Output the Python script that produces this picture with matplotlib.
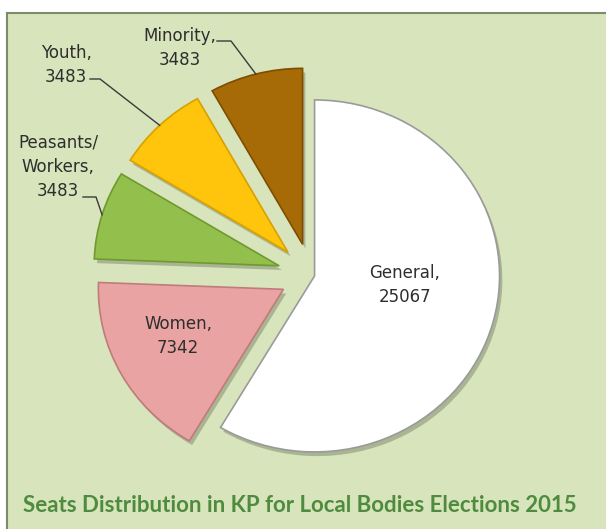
import matplotlib
matplotlib.use('Agg')
import numpy as np
import matplotlib.pyplot as plt
import matplotlib.patheffects as pe
from matplotlib.patches import Rectangle

categories = ['General', 'Women', 'Peasants/\nWorkers', 'Youth', 'Minority']
seats = [25067, 7342, 3483, 3483, 3483]
title = 'Seats Distribution in KP for Local Bodies Elections 2015'

slice_colors = ['#ffffff', '#e9a3a3', '#93bf4c', '#ffc40c', '#a66a06']
edge_colors = ['#9a9a9a', '#c07b7b', '#6f9a2e', '#d9a100', '#7d4e00']
explode = [0.02, 0.17, 0.18, 0.18, 0.18]

W, H = 606, 529
fig = plt.figure(figsize=(W / 100, H / 100), dpi=100, facecolor='white')

def pixel_axes():
    a = fig.add_axes([0, 0, 1, 1])
    a.set_xlim(0, W)
    a.set_ylim(H, 0)   # y down, like the picture
    a.axis('off')
    return a

# background layer
bg = pixel_axes()
bg.add_patch(Rectangle((7, 13), W - 7, H - 13, facecolor='#d8e4bc', edgecolor='none'))
bg.plot([7, 7], [13, H], color='#7d8a6c', lw=1.5)
bg.plot([7, W], [13, 13], color='#7d8a6c', lw=1.5)

# pie axes, slightly wider than tall like the source
cx, cy = 311, 275
rx, ry = 185, 176
lim = 1.5
ax = fig.add_axes([(cx - lim * rx) / W, (H - cy - lim * ry) / H,
                   2 * lim * rx / W, 2 * lim * ry / H])
ax.patch.set_visible(False)
wedges, _ = ax.pie(seats, colors=slice_colors, explode=explode,
                   startangle=90, counterclock=False,
                   wedgeprops=dict(linewidth=1.2))
ax.set_xlim(-lim, lim)
ax.set_ylim(-lim, lim)
ax.set_aspect('auto')
ax.axis('off')

for w, ec in zip(wedges, edge_colors):
    w.set_edgecolor(ec)
    w.set_path_effects([pe.SimplePatchShadow(offset=(2, -3), shadow_rgbFace='#6e7a60', alpha=0.45),
                        pe.Normal()])

# text / leader layer on top
top = pixel_axes()
top.patch.set_visible(False)

def arc_point(w):
    m = np.deg2rad(0.5 * (w.theta1 + w.theta2))
    p = (w.center[0] + w.r * np.cos(m), w.center[1] + w.r * np.sin(m))
    disp = ax.transData.transform(p)
    return top.transData.inverted().transform(disp)

labels = [f'{c},\n{v}' for c, v in zip(categories, seats)]
label_pos = [(405, 285), (178, 336), (58, 167), (66, 65), (180, 48)]
for lab, (x, y) in zip(labels, label_pos):
    top.text(x, y, lab, ha='center', va='center', fontsize=12,
             color='#2e2e2e', linespacing=1.45, family='DejaVu Sans')

# leader lines for the small outside labels
leaders = {2: [(83, 197), (96, 197)], 3: [(90, 79), (100, 79)], 4: [(217, 41), (231, 41)]}
for i, pts in leaders.items():
    end = arc_point(wedges[i])
    xs = [p[0] for p in pts] + [end[0]]
    ys = [p[1] for p in pts] + [end[1]]
    top.plot(xs, ys, color='#3a3a3a', lw=1)

top.text(300, 505, title, ha='center', va='center', fontsize=16,
         fontweight='bold', family='Lato', color='#4f8b3f')

fig.savefig('out.png', dpi=100, facecolor='white')
